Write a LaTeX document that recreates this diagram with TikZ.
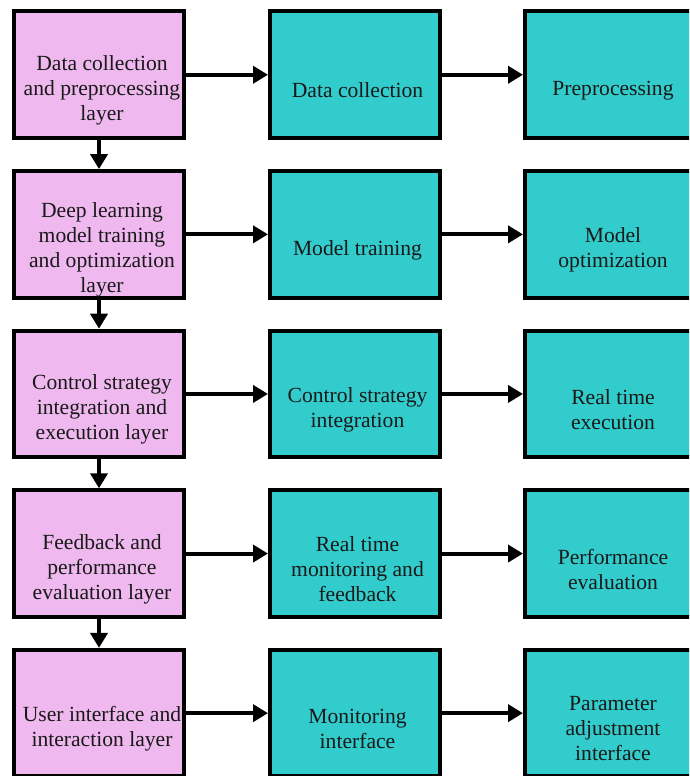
\documentclass[tikz,border=0pt]{standalone}
\usepackage{fontspec}
\setmainfont{Liberation Serif}
\usetikzlibrary{arrows.meta}
\definecolor{layerpink}{RGB}{239,184,239}
\definecolor{stepteal}{RGB}{51,204,204}
\tikzset{
  boxbase/.style={draw=black, line width=4pt, minimum width=170pt, minimum height=126.5pt, inner sep=0pt},
  layerbox/.style={boxbase, fill=layerpink},
  stepbox/.style={boxbase, fill=stepteal},
  txt/.style={align=center, font=\fontsize{21.6pt}{25pt}\selectfont, text=black!90, inner sep=0pt},
  conn/.style={line width=4pt, -{Triangle[length=15pt,width=17pt]}}
}
\begin{document}
\begin{tikzpicture}[x=1pt,y=-1pt]
\useasboundingbox (0,0) rectangle (689,776);
\clip (0,0) rectangle (689,776);
\fill[white] (0,0) rectangle (689,776);
% rows
\foreach \r/\y in {1/74.75,2/234.35,3/393.95,4/553.55,5/713.15}{
  \node[layerbox] (a\r) at (99,\y) {};
  \node[stepbox] (b\r) at (355,\y) {};
  \node[stepbox] (c\r) at (610,\y) {};
}
% texts
\node[txt] (ta1) at ([xshift=3pt,yshift=-15.5pt]a1.center) {Data collection\\and preprocessing\\layer};
\node[txt] (tb1) at ([xshift=2.5pt,yshift=-15.5pt]b1.center) {Data collection};
\node[txt] (tc1) at ([xshift=3pt,yshift=-15.5pt]c1.center) {Preprocessing};
\node[txt] (ta2) at ([xshift=3pt,yshift=-15.5pt]a2.center) {Deep learning\\model training\\and optimization\\layer};
\node[txt] (tb2) at ([xshift=2.5pt,yshift=-15.5pt]b2.center) {Model training};
\node[txt] (tc2) at ([xshift=3pt,yshift=-15.5pt]c2.center) {Model\\optimization};
\node[txt] (ta3) at ([xshift=3pt,yshift=-15.5pt]a3.center) {Control strategy\\integration and\\execution layer};
\node[txt] (tb3) at ([xshift=2.5pt,yshift=-15.5pt]b3.center) {Control strategy\\integration};
\node[txt] (tc3) at ([xshift=3pt,yshift=-15.5pt]c3.center) {Real time\\execution};
\node[txt] (ta4) at ([xshift=3pt,yshift=-15.5pt]a4.center) {Feedback and\\performance\\evaluation layer};
\node[txt] (tb4) at ([xshift=2.5pt,yshift=-15.5pt]b4.center) {Real time\\monitoring and\\feedback};
\node[txt] (tc4) at ([xshift=3pt,yshift=-15.5pt]c4.center) {Performance\\evaluation};
\node[txt] (ta5) at ([xshift=3pt,yshift=-15.5pt]a5.center) {User interface and\\interaction layer};
\node[txt] (tb5) at ([xshift=2.5pt,yshift=-15.5pt]b5.center) {Monitoring\\interface};
\node[txt] (tc5) at ([xshift=3pt,yshift=-15.5pt]c5.center) {Parameter\\adjustment\\interface};
% connectors
\foreach \r in {1,...,5}{
  \draw[conn] (a\r.east) -- (b\r.west);
  \draw[conn] (b\r.east) -- (c\r.west);
}
\foreach \r/\s in {1/2,2/3,3/4,4/5}{
  \draw[conn] (a\r.south) -- (a\s.north);
}
\end{tikzpicture}
\end{document}
